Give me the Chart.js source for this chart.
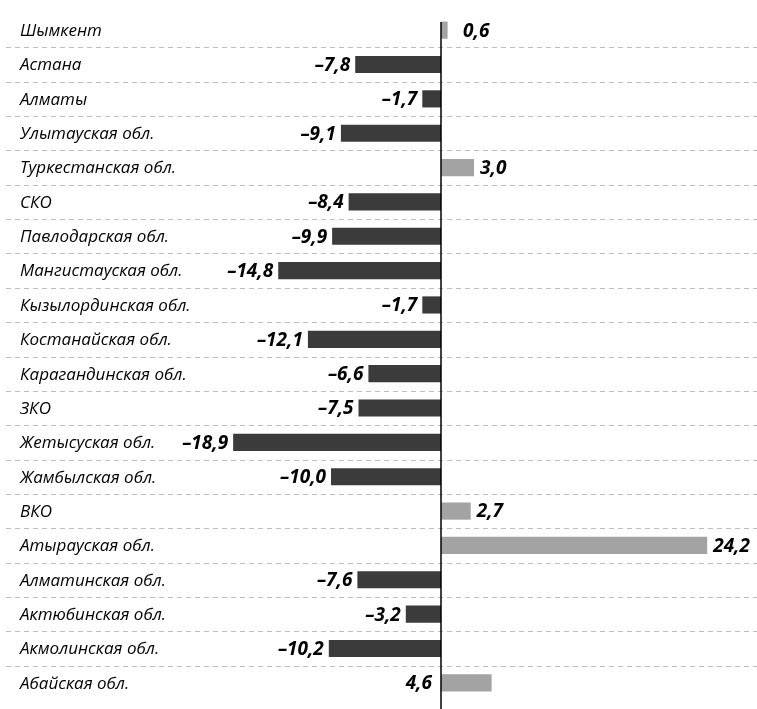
<!DOCTYPE html>
<html>
<head>
<meta charset="utf-8">
<script src="https://cdn.jsdelivr.net/npm/chart.js@4.4.1/dist/chart.umd.min.js"></script>
<style>
  html, body { margin: 0; padding: 0; background: #fff; }
  #wrap { width: 757px; height: 709px; }
</style>
</head>
<body>
<div id="wrap"><canvas id="regionChart" width="757" height="709"></canvas></div>
<script>
const regions = [
  'Шымкент', 'Астана', 'Алматы', 'Улытауская обл.', 'Туркестанская обл.',
  'СКО', 'Павлодарская обл.', 'Мангистауская обл.', 'Кызылординская обл.',
  'Костанайская обл.', 'Карагандинская обл.', 'ЗКО', 'Жетысуская обл.',
  'Жамбылская обл.', 'ВКО', 'Атырауская обл.', 'Алматинская обл.',
  'Актюбинская обл.', 'Акмолинская обл.', 'Абайская обл.'
];
const changes = [
  0.6, -7.8, -1.7, -9.1, 3.0,
  -8.4, -9.9, -14.8, -1.7,
  -12.1, -6.6, -7.5, -18.9,
  -10.0, 2.7, 24.2, -7.6,
  -3.2, -10.2, 4.6
];
// the reference puts this one value label on the left of the axis
const labelOnLeft = ['Абайская обл.'];

const fmt = v => (v < 0 ? '\u2013' : '') + Math.abs(v).toFixed(1).replace('.', ',');

const labelsPlugin = {
  id: 'rowLabels',
  beforeDatasetsDraw(chart) {
    // dashed separators between rows
    const { ctx, chartArea, scales: { y } } = chart;
    ctx.save();
    ctx.strokeStyle = '#bdbdbd';
    ctx.lineWidth = 1;
    ctx.setLineDash([5, 4]);
    for (let i = 1; i < regions.length; i++) {
      const yy = Math.round((y.getPixelForValue(i - 1) + y.getPixelForValue(i)) / 2) + 0.5;
      ctx.beginPath();
      ctx.moveTo(chartArea.left, yy);
      ctx.lineTo(chartArea.right, yy);
      ctx.stroke();
    }
    ctx.restore();
  },
  afterDatasetsDraw(chart) {
    const { ctx, scales: { x }, height } = chart;
    const meta = chart.getDatasetMeta(0);
    const zeroX = x.getPixelForValue(0);
    ctx.save();
    // zero axis line
    ctx.strokeStyle = '#000';
    ctx.lineWidth = 1.5;
    ctx.beginPath();
    ctx.moveTo(zeroX, 22);
    ctx.lineTo(zeroX, height);
    ctx.stroke();

    ctx.textBaseline = 'middle';
    meta.data.forEach((bar, i) => {
      const y = bar.y + 1;
      ctx.fillStyle = '#000';
      ctx.font = 'italic 17px "Open Sans"';
      ctx.textAlign = 'left';
      ctx.fillText(regions[i], 20, y);

      const v = changes[i];
      ctx.font = 'italic bold 19px "Open Sans"';
      if (v < 0) {
        ctx.textAlign = 'right';
        ctx.fillText(fmt(v), bar.x - 5, y);
      } else if (labelOnLeft.includes(regions[i])) {
        ctx.textAlign = 'right';
        ctx.fillText(fmt(v), zeroX - 9, y);
      } else {
        ctx.textAlign = 'left';
        ctx.fillText(fmt(v), Math.max(bar.x + 6, zeroX + 22), y);
      }
    });
    ctx.restore();
  }
};

new Chart(document.getElementById('regionChart'), {
  type: 'bar',
  data: {
    labels: regions,
    datasets: [{
      data: changes,
      backgroundColor: changes.map(v => v < 0 ? '#3b3b3b' : '#a3a3a3'),
      borderWidth: 0,
      barPercentage: 0.5,
      categoryPercentage: 1
    }]
  },
  options: {
    indexAxis: 'y',
    responsive: false,
    animation: false,
    layout: { padding: { left: 6, right: 0, top: 13, bottom: 9 } },
    plugins: {
      legend: { display: false },
      tooltip: { enabled: false }
    },
    scales: {
      x: {
        display: false,
        min: -39.55,
        max: 28.73
      },
      y: {
        display: false
      }
    }
  },
  plugins: [labelsPlugin]
});
</script>
</body>
</html>
